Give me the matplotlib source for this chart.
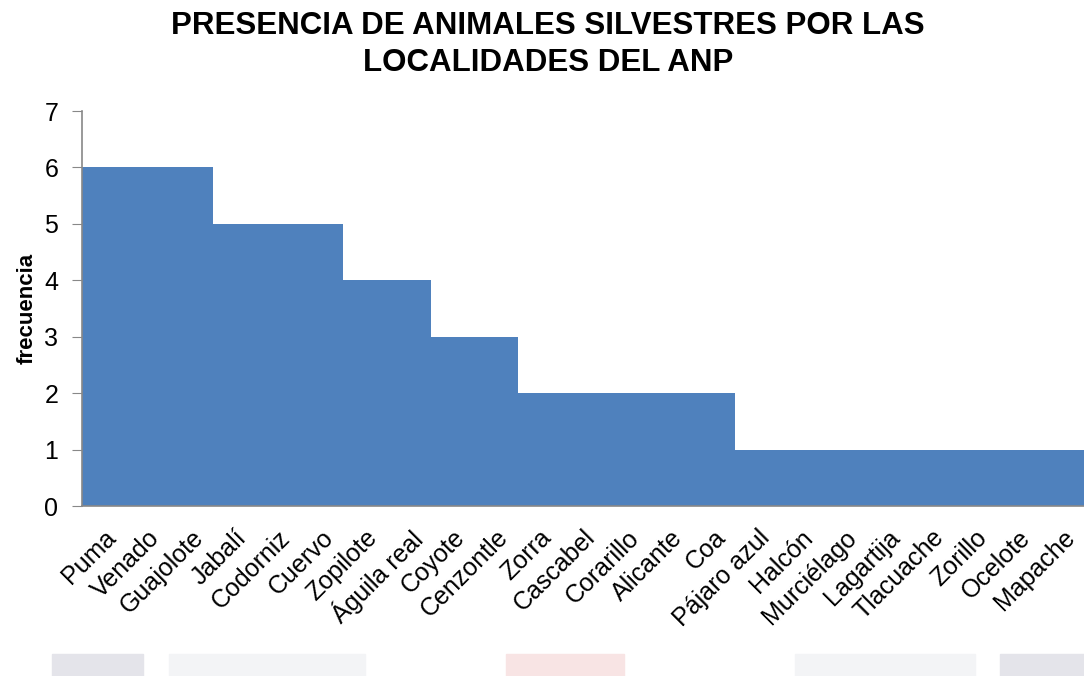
import matplotlib
matplotlib.use("Agg")
import matplotlib.pyplot as plt
from matplotlib.patches import Rectangle

plt.rcParams['font.family'] = ['Liberation Sans', 'DejaVu Sans']

animales = ['Puma', 'Venado', 'Guajolote', 'Jabalí', 'Codorniz', 'Cuervo',
            'Zopilote', 'Águila real', 'Coyote', 'Cenzontle', 'Zorra',
            'Cascabel', 'Corarillo', 'Alicante', 'Coa', 'Pájaro azul',
            'Halcón', 'Murciélago', 'Lagartija', 'Tlacuache', 'Zorillo',
            'Ocelote', 'Mapache']
frecuencia = [6, 6, 6, 5, 5, 5, 4, 4, 3, 3, 2, 2, 2, 2, 2,
              1, 1, 1, 1, 1, 1, 1, 1]

fig = plt.figure(figsize=(10.84, 6.76), dpi=100)
ax = fig.add_axes([82 / 1084, 1 - 506 / 676, 1 - 82 / 1084, (506 - 111) / 676])

x = list(range(len(animales)))
ax.bar(x, frecuencia, width=1.0, color='#4F81BD', linewidth=0)

ax.set_xlim(-0.5, len(animales) - 0.5)
ax.set_ylim(0, 7)
ax.set_yticks(range(0, 8))
ax.set_xticks(x)
ax.set_xticklabels(animales, rotation=45, ha='right', rotation_mode='anchor',
                   fontsize=18)
ax.tick_params(axis='y', labelsize=18, length=7, color='#888888', pad=10)
ax.tick_params(axis='x', length=0, pad=14)

for s in ['top', 'right']:
    ax.spines[s].set_visible(False)
for s in ['left', 'bottom']:
    ax.spines[s].set_color('#888888')
    ax.spines[s].set_linewidth(1.2)

ax.set_ylabel('frecuencia', fontsize=16, fontweight='bold', labelpad=5)

fig.text(0.5055, 0.983, 'PRESENCIA DE ANIMALES SILVESTRES POR LAS\nLOCALIDADES DEL ANP',
         ha='center', va='top', fontsize=22.5, fontweight='bold', linespacing=1.28)

# faint band along the bottom edge
for x0, x1, c in [(52, 143, '#e4e4ea'), (169, 365, '#f3f4f6'),
                  (506, 624, '#f8e4e4'), (795, 975, '#f3f4f6'),
                  (1000, 1084, '#e4e4ea')]:
    fig.patches.append(Rectangle((x0 / 1084, 0), (x1 - x0) / 1084, 22 / 676,
                                 transform=fig.transFigure, color=c, zorder=0))

fig.savefig('out.png', dpi=100)
